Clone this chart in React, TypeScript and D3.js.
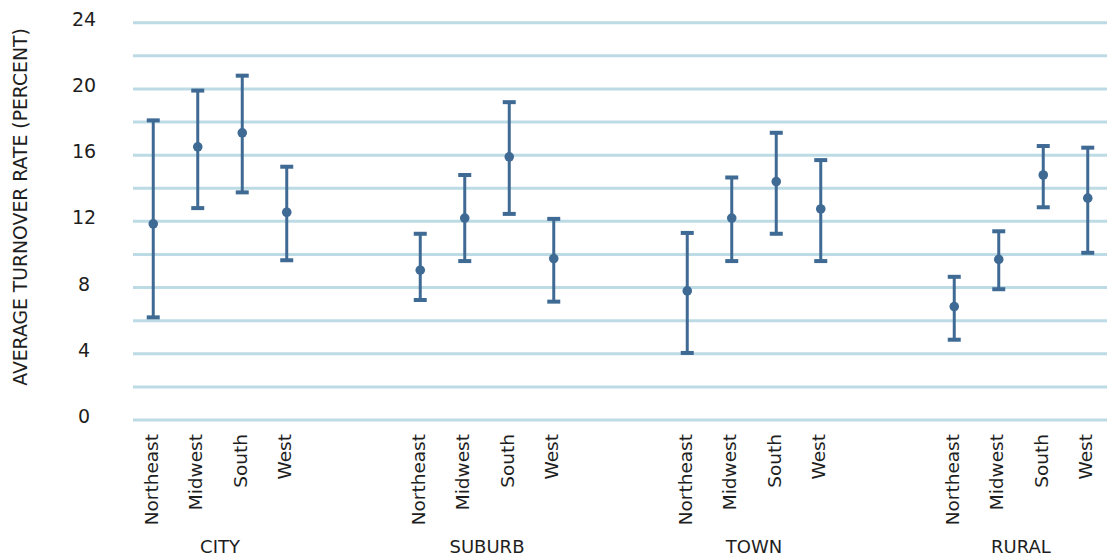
import React from "react";
import * as d3 from "d3";

const groups = ["CITY", "SUBURB", "TOWN", "RURAL"];
const regions = ["Northeast", "Midwest", "South", "West"];
const yTicks = [0, 4, 8, 12, 16, 20, 24];
const gridValues = [0, 2, 4, 6, 8, 10, 12, 14, 16, 18, 20, 22, 24];

// mean, lower and upper bounds per group (rows) and region (columns)
const meanValues = [
  [11.85, 16.5, 17.35, 12.55],
  [9.05, 12.2, 15.9, 9.75],
  [7.8, 12.2, 14.4, 12.75],
  [6.85, 9.7, 14.8, 13.4],
];
const lowerValues = [
  [6.2, 12.8, 13.75, 9.65],
  [7.25, 9.6, 12.45, 7.15],
  [4.05, 9.6, 11.25, 9.6],
  [4.85, 7.9, 12.85, 10.1],
];
const upperValues = [
  [18.1, 19.9, 20.8, 15.3],
  [11.25, 14.8, 19.2, 12.15],
  [11.3, 14.65, 17.35, 15.7],
  [8.65, 11.4, 16.55, 16.45],
];

const W = 1107;
const H = 559;
const FONT = "'DejaVu Sans', sans-serif";
const BAR = "#3e6a94";
const GRID = "#bcdbe5";
const TEXT = "#1e1e1e";

export default function App() {
  const slotsPerGroup = regions.length + 2;
  const slotIds = d3.range(groups.length * slotsPerGroup - 2);
  const x = d3.scaleBand<number>().domain(slotIds).range([131, 1110]).padding(0);
  const cx = (g: number, r: number) => (x(g * slotsPerGroup + r) as number) + x.bandwidth() / 2;
  const y = d3.scaleLinear().domain([0, 24]).range([420, 22.7]);

  const points = groups.flatMap((g, gi) =>
    regions.map((r, ri) => ({
      key: `${g}-${r}`,
      x: cx(gi, ri),
      mean: meanValues[gi][ri],
      lo: lowerValues[gi][ri],
      hi: upperValues[gi][ri],
    }))
  );

  const capHalf = 6.5;

  return (
    <svg
      width={W}
      height={H}
      style={{ position: "absolute", left: 0, top: 0, background: "#fff" }}
      fontFamily={FONT}
    >
      {gridValues.map((v) => (
        <line key={v} x1={133} x2={W} y1={y(v)} y2={y(v)} stroke={GRID} strokeWidth={3} />
      ))}
      {yTicks.map((v) => (
        <text key={v} x={84} y={y(v) + 3} textAnchor="middle" fontSize={19} fill={TEXT}>
          {v}
        </text>
      ))}
      <text
        transform={`translate(27,207) rotate(-90)`}
        textAnchor="middle"
        fontSize={18.8}
        fill={TEXT}
      >
        AVERAGE TURNOVER RATE (PERCENT)
      </text>
      {points.map((p) => (
        <g key={p.key}>
          <line x1={p.x} x2={p.x} y1={y(p.hi)} y2={y(p.lo)} stroke={BAR} strokeWidth={3} />
          <line x1={p.x - capHalf} x2={p.x + capHalf} y1={y(p.hi)} y2={y(p.hi)} stroke={BAR} strokeWidth={4} />
          <line x1={p.x - capHalf} x2={p.x + capHalf} y1={y(p.lo)} y2={y(p.lo)} stroke={BAR} strokeWidth={4} />
          <circle cx={p.x} cy={y(p.mean)} r={4.8} fill={BAR} />
        </g>
      ))}
      {groups.map((g, gi) =>
        regions.map((r, ri) => (
          <text
            key={`${g}-${r}-lbl`}
            transform={`translate(${cx(gi, ri) + 4.5},434) rotate(-90)`}
            textAnchor="end"
            fontSize={18.5}
            fill={TEXT}
          >
            {r}
          </text>
        ))
      )}
      {groups.map((g, gi) => (
        <text
          key={g}
          x={(cx(gi, 0) + cx(gi, regions.length - 1)) / 2}
          y={553}
          textAnchor="middle"
          fontSize={18}
          fill={TEXT}
        >
          {g}
        </text>
      ))}
    </svg>
  );
}
